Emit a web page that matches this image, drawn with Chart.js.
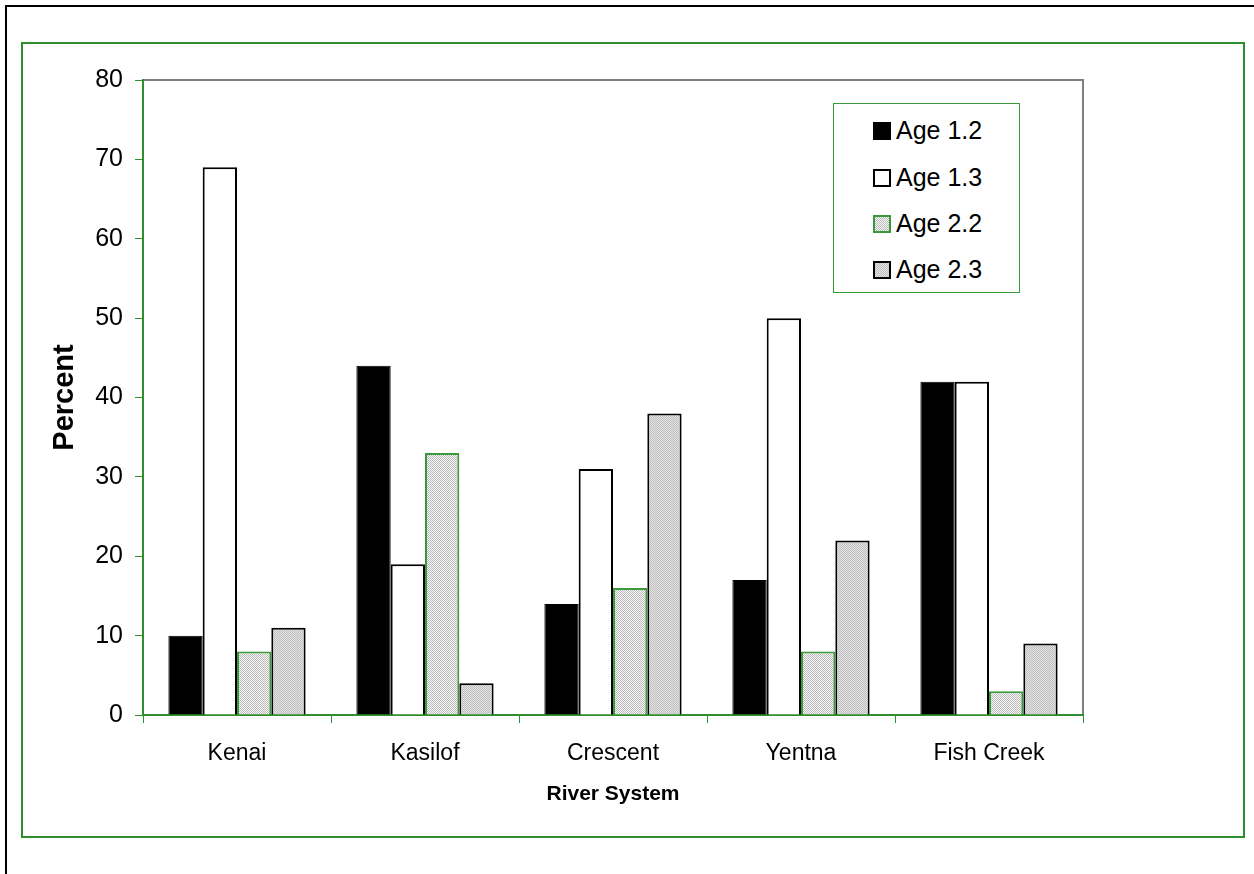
<!DOCTYPE html>
<html>
<head>
<meta charset="utf-8">
<script src="https://cdn.jsdelivr.net/npm/chart.js@4/dist/chart.umd.min.js"></script>
<style>
    html, body { margin: 0; padding: 0; background: #fff; overflow: hidden; }
    #page { position: relative; width: 1254px; height: 874px; }
    #outer { position: absolute; left: 5px; top: 5px; width: 1300px; height: 900px;
             border-top: 2px solid #000; border-left: 2px solid #000; }
    #inner { position: absolute; left: 21px; top: 42px; width: 1220px; height: 792px;
             border: 2px solid #2f8f2f; }
    #myChart { position: absolute; left: 0; top: 0; }
    #legend { position: absolute; left: 833px; top: 103px; width: 185px; height: 188px;
              border: 1px solid #3a9a3a; background: #fff;
              font-family: "Liberation Sans", Arial, sans-serif; font-size: 25px; color: #000; }
    .item { position: absolute; left: 39px; height: 28px; line-height: 28px; white-space: nowrap; }
    .swatch { display: inline-block; width: 14px; height: 14px; vertical-align: -1px;
              margin-right: 5px; box-sizing: content-box; }
</style>
</head>
<body>
<div id="page">
    <div id="outer"></div>
    <div id="inner"></div>
    <canvas id="myChart" width="1254" height="874"></canvas>
    <div id="legend"></div>
</div>
<script>
const categories = ["Kenai", "Kasilof", "Crescent", "Yentna", "Fish Creek"];
const age12 = [10, 44, 14, 17, 42];
const age13 = [69, 19, 31, 50, 42];
const age22 = [8, 33, 16, 8, 3];
const age23 = [11, 4, 38, 22, 9];
const seriesLabels = ["Age 1.2", "Age 1.3", "Age 2.2", "Age 2.3"];

const green = "#2f8f2f";

// small dotted fills like the old spreadsheet patterns
function make_pattern(bg, dot) {
    let c = document.createElement("canvas");
    c.width = 4;
    c.height = 4;
    let g = c.getContext("2d");
    g.fillStyle = bg;
    g.fillRect(0, 0, 4, 4);
    g.fillStyle = dot;
    for (let y = 0; y < 4; y++) {
        for (let x = 0; x < 4; x++) {
            if ((x + y) % 2 == 0) {
                g.fillRect(x, y, 1, 1);
            }
        }
    }
    return c;
}

const pat22 = make_pattern("#f6f6f6", "#bcbcbc");
const pat23 = make_pattern("#e2e2e2", "#c0c0c0");

const ctx = document.getElementById("myChart").getContext("2d");
const fill22 = ctx.createPattern(pat22, "repeat");
const fill23 = ctx.createPattern(pat23, "repeat");

const frame_plugin = {
    id: "plotFrame",
    beforeDraw(chart) {
        const a = chart.chartArea;
        const c = chart.ctx;
        c.save();
        c.strokeStyle = "#808080";
        c.lineWidth = 2;
        c.beginPath();
        c.moveTo(a.left, a.top);
        c.lineTo(a.right, a.top);
        c.lineTo(a.right, a.bottom);
        c.stroke();
        c.restore();
    },
};

Chart.defaults.font.family = '"Liberation Sans", Arial, sans-serif';
Chart.defaults.color = "#000";

let my_chart = new Chart(ctx, {
    type: "bar",
    data: {
        labels: categories,
        datasets: [
            {
                label: seriesLabels[0],
                data: age12,
                backgroundColor: "#000",
                borderColor: "#000",
                borderWidth: 1,
            },
            {
                label: seriesLabels[1],
                data: age13,
                backgroundColor: "#fff",
                borderColor: "#000",
                borderWidth: 2,
            },
            {
                label: seriesLabels[2],
                data: age22,
                backgroundColor: fill22,
                borderColor: "#3a9a3a",
                borderWidth: 2,
            },
            {
                label: seriesLabels[3],
                data: age23,
                backgroundColor: fill23,
                borderColor: "#000",
                borderWidth: 2,
            },
        ],
    },
    options: {
        responsive: false,
        animation: false,
        layout: { padding: { left: 0, right: 171, top: 80, bottom: 59 } },
        datasets: { bar: { categoryPercentage: 0.73, barPercentage: 1.0 } },
        plugins: {
            legend: { display: false },
            tooltip: { enabled: false },
        },
        scales: {
            x: {
                afterFit: (scale) => { scale.height = 100; },
                grid: { display: true, drawOnChartArea: false, tickLength: 8, color: green, offset: true },
                border: { display: true, color: green, width: 2 },
                ticks: { font: { size: 23 }, padding: 17, maxRotation: 0, autoSkip: false },
                title: {
                    display: true,
                    text: "River System",
                    font: { size: 21, weight: "bold" },
                    padding: { top: 0, bottom: 8 },
                },
            },
            y: {
                min: 0,
                max: 80,
                afterFit: (scale) => { scale.width = 143; },
                grid: { display: true, drawOnChartArea: false, tickLength: 8, color: green },
                border: { display: true, color: green, width: 2 },
                ticks: { stepSize: 10, font: { size: 25 }, padding: 12 },
                title: {
                    display: true,
                    text: "Percent",
                    font: { size: 29, weight: "bold" },
                    padding: { top: 48, bottom: 0 },
                },
            },
        },
    },
    plugins: [frame_plugin],
});

// legend box, built from the datasets
const legend = document.getElementById("legend");
const rowTops = [12, 59, 105, 151];
my_chart.data.datasets.forEach((ds, i) => {
    let item = document.createElement("div");
    item.className = "item";
    item.style.top = rowTops[i] + "px";
    let sw = document.createElement("span");
    sw.className = "swatch";
    sw.style.border = "2px solid " + ds.borderColor;
    if (i == 2) {
        sw.style.backgroundImage = "url(" + pat22.toDataURL() + ")";
    } else if (i == 3) {
        sw.style.backgroundImage = "url(" + pat23.toDataURL() + ")";
    } else {
        sw.style.background = ds.backgroundColor;
    }
    item.appendChild(sw);
    item.appendChild(document.createTextNode(ds.label));
    legend.appendChild(item);
});
</script>
</body>
</html>
